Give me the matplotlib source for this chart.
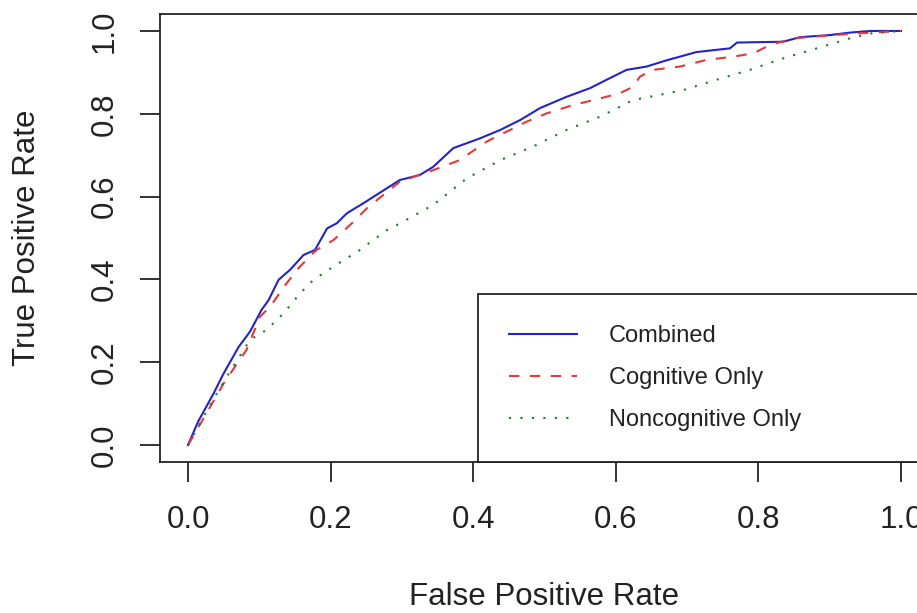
import matplotlib
matplotlib.use("Agg")
import matplotlib.pyplot as plt

plt.rcParams['font.family'] = ['Liberation Sans', 'DejaVu Sans']

# ROC curves
comb_fpr = [0, 0.014, 0.036, 0.05, 0.071, 0.087, 0.103, 0.113, 0.127, 0.143, 0.162, 0.178,
            0.195, 0.209, 0.223, 0.246, 0.297, 0.325, 0.344, 0.372, 0.410, 0.438, 0.466,
            0.494, 0.531, 0.564, 0.587, 0.615, 0.643, 0.671, 0.713, 0.760, 0.770, 0.835,
            0.858, 0.900, 0.928, 0.957, 1.0]
comb_tpr = [0, 0.056, 0.125, 0.173, 0.237, 0.274, 0.326, 0.350, 0.399, 0.423, 0.459, 0.471,
            0.523, 0.536, 0.560, 0.584, 0.640, 0.652, 0.672, 0.717, 0.741, 0.761, 0.785,
            0.814, 0.841, 0.862, 0.882, 0.906, 0.914, 0.929, 0.949, 0.958, 0.972, 0.974,
            0.985, 0.990, 0.996, 1.0, 1.0]

cog_fpr = [0, 0.026, 0.05, 0.082, 0.101, 0.115, 0.138, 0.157, 0.18, 0.204, 0.232, 0.251,
           0.297, 0.344, 0.381, 0.419, 0.475, 0.503, 0.540, 0.578, 0.606, 0.624, 0.634,
           0.652, 0.690, 0.727, 0.765, 0.793, 0.816, 0.849, 0.905, 0.938, 1.0]
cog_tpr = [0, 0.077, 0.149, 0.23, 0.31, 0.334, 0.39, 0.431, 0.471, 0.495, 0.539, 0.572,
           0.636, 0.664, 0.688, 0.733, 0.781, 0.801, 0.821, 0.837, 0.850, 0.865, 0.89,
           0.906, 0.914, 0.93, 0.938, 0.946, 0.966, 0.982, 0.990, 0.994, 1.0]

non_fpr = [0, 0.035, 0.063, 0.087, 0.11, 0.134, 0.157, 0.176, 0.204, 0.241, 0.279, 0.297,
           0.344, 0.391, 0.438, 0.484, 0.531, 0.578, 0.624, 0.671, 0.694, 0.741, 0.788,
           0.835, 0.882, 0.928, 0.957, 1.0]
non_tpr = [0, 0.109, 0.189, 0.254, 0.278, 0.318, 0.366, 0.399, 0.431, 0.471, 0.519, 0.535,
           0.58, 0.644, 0.688, 0.721, 0.761, 0.793, 0.833, 0.849, 0.857, 0.882, 0.906,
           0.934, 0.958, 0.982, 0.994, 1.0]

labels = ["Combined", "Cognitive Only", "Noncognitive Only"]
ticks = [0.0, 0.2, 0.4, 0.6, 0.8, 1.0]

fig = plt.figure(figsize=(9.17, 6.13), dpi=100)
# R-style plot region; the right edge falls just outside the picture
ax = fig.add_axes([159.5 / 917, (613 - 461.6) / 613, 770 / 917, 447.2 / 613])

ax.plot(comb_fpr, comb_tpr, color='#2323c8', lw=1.5, ls='-', label=labels[0])
ax.plot(cog_fpr, cog_tpr, color='#e03a3a', lw=1.5, ls=(0, (5, 5)), label=labels[1])
ax.plot(non_fpr, non_tpr, color='#1f7a2a', lw=1.5, ls=(0, (1, 4.5)), label=labels[2])

ax.set_xlim(-0.04, 1.04)
ax.set_ylim(-0.04, 1.04)
ax.set_xticks(ticks)
ax.set_yticks(ticks)
ax.set_xticklabels([f"{t:.1f}" for t in ticks])
ax.set_yticklabels([f"{t:.1f}" for t in ticks])

for s in ax.spines.values():
    s.set_linewidth(1.3)
    s.set_color('#222222')

ax.tick_params(axis='both', length=14.4, width=1.3, color='#222222',
               labelsize=22.5, labelcolor='#222222')
ax.tick_params(axis='x', pad=17)
ax.tick_params(axis='y', pad=14)
for lab in ax.get_yticklabels():
    lab.set_rotation(90)
    lab.set_va('center')

ax.set_xlabel("False Positive Rate", fontsize=22.5, color='#222222', va='center')
ax.xaxis.set_label_coords(0.5, -0.303)
ax.set_ylabel("True Positive Rate", fontsize=22.5, color='#222222', va='center')
ax.yaxis.set_label_coords(-0.172, 0.5)

leg = ax.legend(loc='lower left', bbox_to_anchor=(0.4136, 0.0, 0.5864, 0.4),
                mode='expand', borderaxespad=0, fontsize=17, frameon=True,
                fancybox=False, framealpha=1, edgecolor='#222222',
                handlelength=2.88, handletextpad=1.36, borderpad=1.3,
                labelspacing=0.85)
leg.get_frame().set_linewidth(1.3)
for t in leg.get_texts():
    t.set_color('#222222')

fig.savefig("out.png", dpi=100, facecolor='white')
